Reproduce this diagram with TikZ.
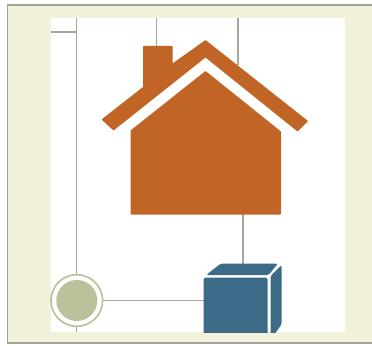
\documentclass[tikz,border=0pt]{standalone}
\usepackage{tikz}
\usetikzlibrary{positioning,calc}

\definecolor{panelbg}{HTML}{F2F2DC}
\definecolor{framegray}{HTML}{A3A39B}
\definecolor{wiregray}{HTML}{A6A6A0}
\definecolor{houseorange}{HTML}{C06525}
\definecolor{cubeblue}{HTML}{3C6B87}
\definecolor{dotgreen}{HTML}{BCC19C}

\tikzset{
  wire/.style={draw=wiregray,line width=0.04cm},
  houseshape/.style={fill=houseorange,rounded corners=0.02cm},
  cubeshape/.style={fill=cubeblue,rounded corners=0.05cm},
  dotring/.style={circle,draw=dotgreen,fill=white,line width=0.05cm,inner sep=0pt,minimum size=1.55cm},
  dotcore/.style={circle,fill=dotgreen,inner sep=0pt,minimum size=1.23cm}
}

\begin{document}
\begin{tikzpicture}[x=0.03cm,y=-0.03cm]
    \useasboundingbox (0,0) rectangle (372,346);

    % Panel
    \fill[panelbg] (7.5,5) rectangle (372,343);
    \draw[framegray,line width=0.05cm] (372,5) -- (7.5,5) -- (7.5,343) -- (372,343);
    \fill[white] (51,18) rectangle (345,332);

    % Wire ends
    \coordinate (T0) at (76.8,18);
    \coordinate (T1) at (156.5,18);
    \coordinate (T2) at (238,18);
    \coordinate (B0) at (76.8,332);
    \coordinate (S0) at (51,32);
    \coordinate (S1) at (76.8,32);
    \coordinate (R0) at (238,65);
    \coordinate (C0) at (156.5,47);
    \coordinate (H0) at (243,214);
    \coordinate (Q0) at (243,265);
    \coordinate (Q1) at (204,300.5);

    \node[dotring] (dot) at (76.8,300.5) {};
    \node[dotcore] (dotin) at (76.8,300.5) {};

    \draw[wire] (T0) -- (dot);
    \draw[wire] (dot) -- (B0);
    \draw[wire] (S0) -- (S1);
    \draw[wire] (T1) -- (C0);
    \draw[wire] (T2) -- (R0);
    \draw[wire] (H0) -- (Q0);
    \draw[wire] (dot) -- (Q1);

    % House
    \fill[houseshape] (143,46) -- (172.5,46) -- (172.5,63.5) -- (205.5,40)
      -- (308,121) -- (297.5,131.5) -- (205.5,57.5) -- (113.5,130.5)
      -- (101.5,119.5) -- (143,87) -- cycle;
    \fill[houseshape] (205.5,71) -- (281,131.5) -- (281,214.5)
      -- (130.5,214.5) -- (130.5,130.5) -- cycle;

    % Cube, cut off at the panel edge
    \begin{scope}
      \clip (195,255) rectangle (290,332);
      \fill[cubeshape] (203.5,277.5) -- (267.5,277.5) -- (267.5,360) -- (203.5,360) -- cycle;
      \fill[cubeshape] (206,275) -- (221,263.5) -- (278,263.5) -- (268.5,275) -- cycle;
      \fill[cubeshape] (270.5,276) -- (281.7,265) -- (281.7,324) -- (270.5,340) -- cycle;
    \end{scope}
  \end{tikzpicture}
\end{document}
